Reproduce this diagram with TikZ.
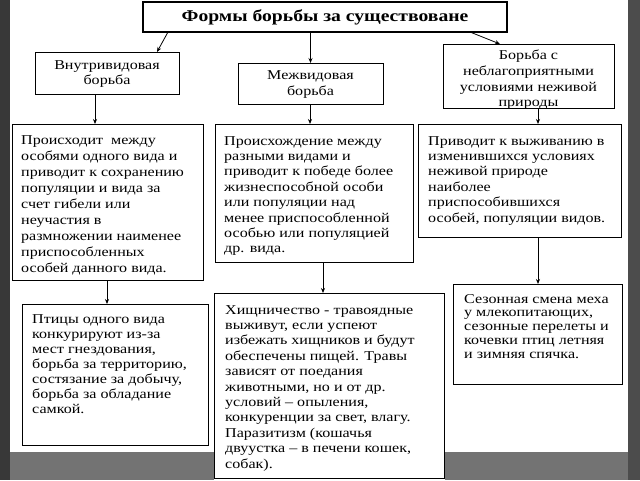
\documentclass[tikz,border=0pt]{standalone}
\usepackage{fontspec}
\setmainfont{Liberation Serif}[FakeStretch=1.19]
\usetikzlibrary{arrows.meta}
\begin{document}
\begin{tikzpicture}[x=1pt,y=-1pt,
  boxnode/.style={draw=black, line width=0.9pt, fill=white, inner sep=0pt, outer sep=0pt, anchor=north west},
  txt/.style={inner sep=0pt, anchor=north west, align=left, font=\fontsize{13.5}{15.4}\selectfont},
  ctxt/.style={inner sep=0pt, align=center, font=\fontsize{13.5}{15.6}\selectfont},
  arr/.style={draw=black, line width=0.8pt, -{Stealth[length=5pt,width=4pt]}}]
% background
\useasboundingbox (0,0) rectangle (640,480);
\fill[white] (0,0) rectangle (640,480);
\fill[black!78] (0,0) rectangle (10,480);
\fill[black!70] (628,0) rectangle (640,480);
\fill[black!55] (10,452) rectangle (214,480);
\fill[black!55] (445,452) rectangle (628,480);
% title
\node[boxnode, line width=1.3pt, minimum width=364pt, minimum height=30pt] (T) at (143,2) {};
\node[font=\fontsize{16.5}{18}\selectfont\bfseries, inner sep=0pt] (Tt) at (T.center) {Формы борьбы за существоване};
% row 1
\node[boxnode, minimum width=144pt, minimum height=42pt] (A) at (35,52) {};
\node[ctxt] (At) at ([yshift=-1pt]A.center) {Внутривидовая\\борьба};
\node[boxnode, minimum width=145pt, minimum height=41pt] (B) at (238,63) {};
\node[ctxt] (Bt) at ([yshift=-1pt]B.center) {Межвидовая\\борьба};
\node[boxnode, minimum width=171pt, minimum height=64pt] (C) at (443,44) {};
\node[ctxt] (Ct) at ([yshift=-4pt]C.center) {Борьба с\\неблагоприятными\\условиями неживой\\природы};
% row 2
\node[boxnode, minimum width=191pt, minimum height=156pt] (D) at (12,124) {};
\node[txt, font=\fontsize{13.5}{16}\selectfont] (Dt) at (21,135) {Происходит\ \ между\\особями одного вида и\\приводит к сохранению\\популяции и вида за\\счет гибели или\\неучастия в\\размножении наименее\\приспособленных\\особей данного вида.};
\node[boxnode, minimum width=198pt, minimum height=138pt] (E) at (215,124) {};
\node[txt] (Et) at (224,136) {Происхождение между\\разными видами и\\приводит к победе более\\жизнеспособной особи\\или популяции над\\менее приспособленной\\особью или популяцией\\др. вида.};
\node[boxnode, minimum width=203pt, minimum height=113pt] (F) at (418,124) {};
\node[txt] (Ft) at (428,136) {Приводит к выживанию в\\изменившихся условиях\\неживой природе\\наиболее\\приспособившихся\\особей, популяции видов.};
% row 3
\node[boxnode, minimum width=186pt, minimum height=141pt] (G) at (22,304) {};
\node[txt, font=\fontsize{13.5}{15}\selectfont] (Gt) at (32,314) {Птицы одного вида\\конкурируют из-за\\мест гнездования,\\борьба за территорию,\\состязание за добычу,\\борьба за обладание\\самкой.};
\node[boxnode, minimum width=230pt, minimum height=185pt] (H) at (214,293) {};
\node[txt] (Ht) at (225,305) {Хищничество - травоядные\\выживут, если успеют\\избежать хищников и будут\\обеспечены пищей. Травы\\зависят от поедания\\животными, но и от др.\\условий – опыления,\\конкуренции за свет, влагу.\\Паразитизм (кошачья\\двуустка – в печени кошек,\\собак).};
\node[boxnode, minimum width=169pt, minimum height=100pt] (I) at (453,284) {};
\node[txt, font=\fontsize{13.5}{13.8}\selectfont] (It) at (464,294) {Сезонная смена меха\\у млекопитающих,\\сезонные перелеты и\\кочевки птиц летняя\\и зимняя спячка.};
% connectors
\draw[arr] ([xshift=25pt]T.south west) -- ([xshift=122pt]A.north west);
\draw[arr] (B.north |- T.south) -- (B.north);
\draw[arr] ([xshift=-37pt]T.south east) -- ([xshift=57pt]C.north west);
\draw[arr] ([xshift=60pt]A.south west) -- ([xshift=83pt]D.north west);
\draw[arr] ([xshift=72pt]B.south west) -- ([xshift=95pt]E.north west);
\draw[arr] ([xshift=95pt]C.south west) -- ([xshift=120pt]F.north west);
\draw[arr] ([xshift=95pt]D.south west) -- ([xshift=85pt]G.north west);
\draw[arr] ([xshift=108pt]E.south west) -- ([xshift=109pt]H.north west);
\draw[arr] ([xshift=120pt]F.south west) -- ([xshift=85pt]I.north west);
\end{tikzpicture}
\end{document}
